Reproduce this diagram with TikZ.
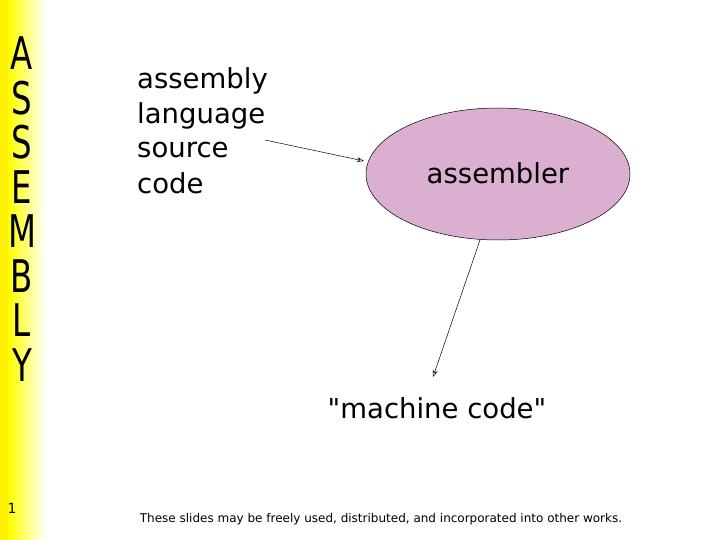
\documentclass[tikz,border=0pt]{standalone}
\usepackage{fontspec}
\setmainfont{DejaVu Sans}
\newfontfamily\rawf{DejaVu Sans}[Ligatures=ResetAll]
\newfontfamily\cond{DejaVu Sans Condensed}
\usetikzlibrary{arrows.meta,shapes.geometric}
\begin{document}
\begin{tikzpicture}[x=1pt,y=-1pt,
  txt/.style={font=\fontsize{27.5}{30}\selectfont,inner sep=0pt},
  link/.style={-{Stealth[length=7pt,width=5pt,open]},line width=0.5pt}]
\useasboundingbox (0,0) rectangle (720,540);
\fill[white] (0,0) rectangle (720,540);
\fill[yellow] (0,0) rectangle (8,540);
\shade[left color=yellow,right color=white] (8,0) rectangle (46,540);
\foreach \l [count=\i] in {A,S,S,E,M,B,L,Y}
  \node[font=\cond\fontsize{36}{36}\selectfont,inner sep=0pt,yscale=1.25] (L\i) at (22,9+\i*44.5) {\l};
\node[font=\fontsize{14}{16}\selectfont,inner sep=0pt] (num) at (12,508) {1};
\node[txt,anchor=west] (t1) at (137,81) {assembly};
\node[txt,anchor=west] (t2) at (137,116) {language};
\node[txt,anchor=west] (t3) at (137,150) {source};
\node[txt,anchor=west] (t4) at (137,183) {code};
\node[draw,ellipse,fill={rgb,255:red,219;green,175;blue,207},minimum width=264pt,minimum height=132pt,inner sep=0pt,line width=0.5pt] (asm) at (498,174) {};
\node[txt] (asmt) at (498,173) {assembler};
\node[txt] (mc) at (437,408) {\rawf "machine code"};
\node[font=\fontsize{12}{14}\selectfont,inner sep=0pt] (foot) at (381,519) {These slides may be freely used, distributed, and incorporated into other works.};
\coordinate (a1) at (265,140);
\coordinate (b1) at (364,161);
\coordinate (a2) at (480,240);
\coordinate (b2) at (433,377);
\draw[link] (a1) -- (b1);
\draw[link] (a2) -- (b2);
\end{tikzpicture}
\end{document}
